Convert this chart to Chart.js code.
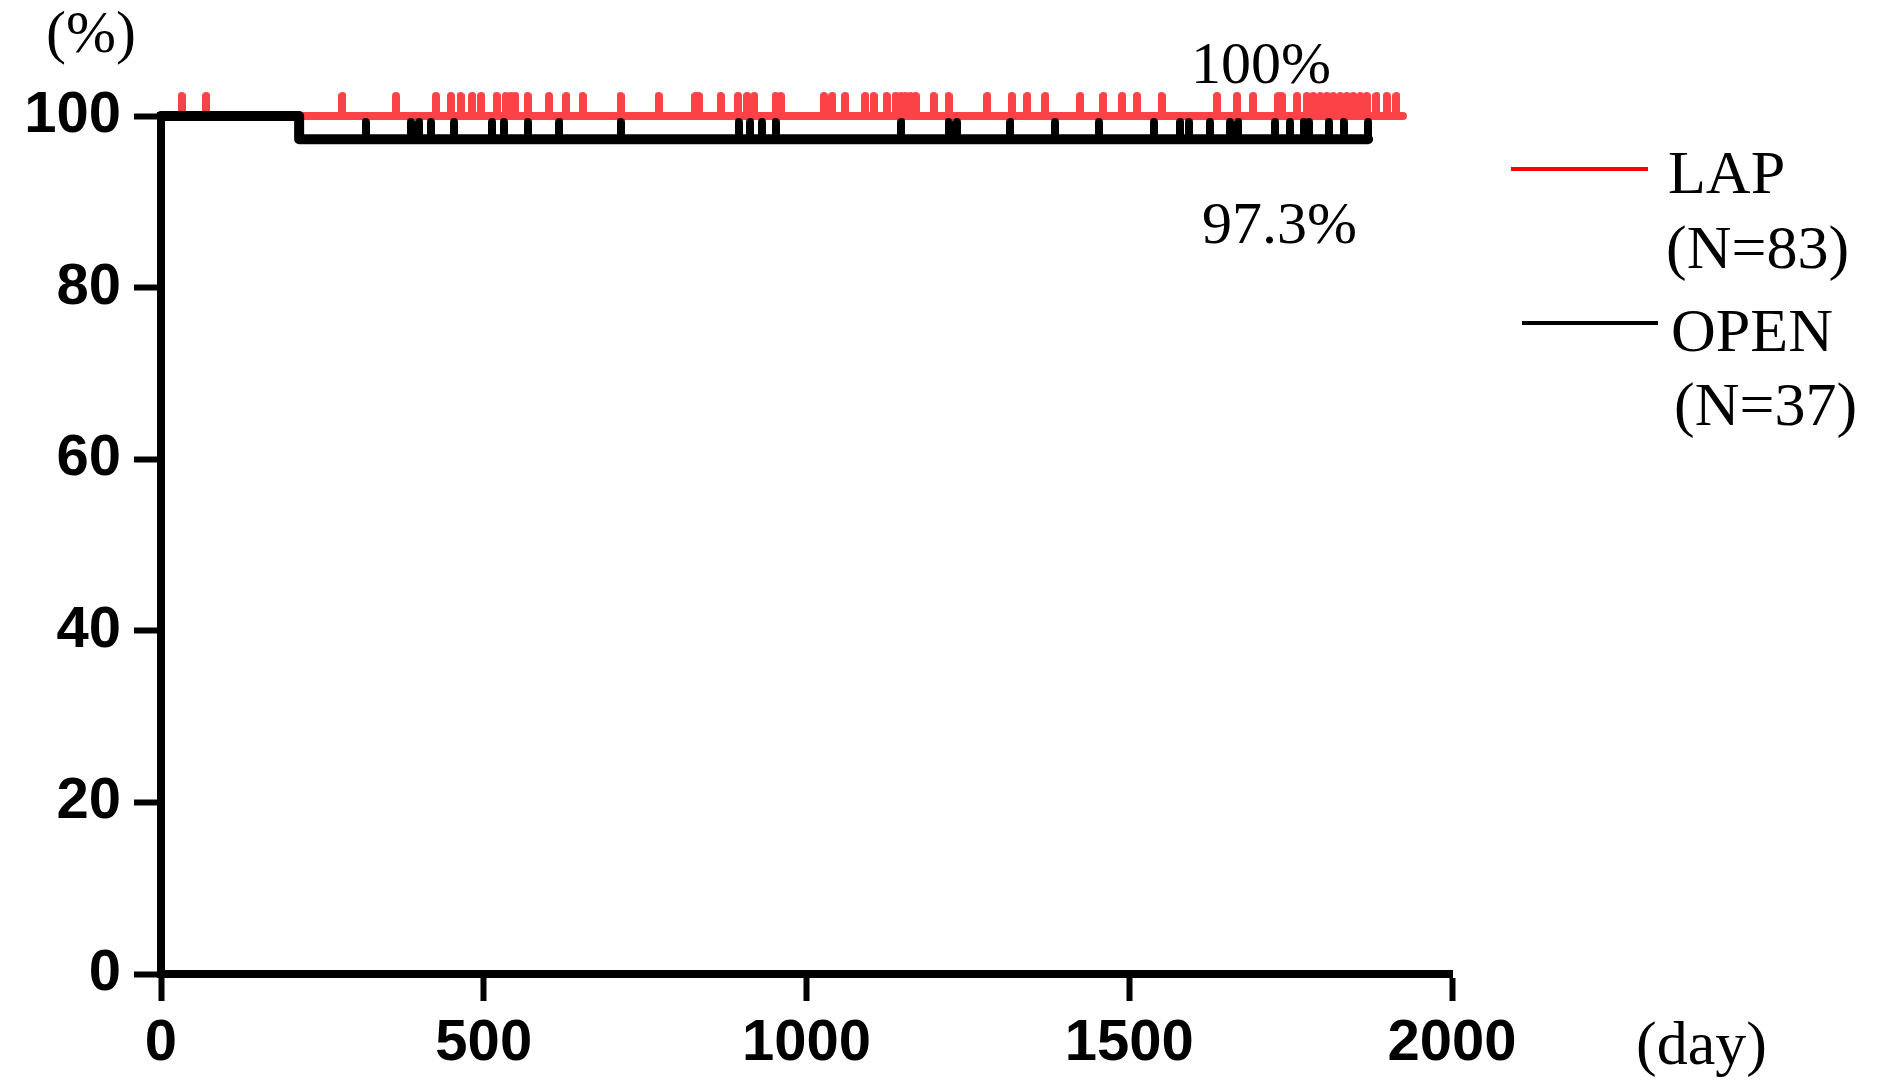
<!DOCTYPE html>
<html><head><meta charset="utf-8">
<script src="https://cdn.jsdelivr.net/npm/chart.js@4/dist/chart.umd.min.js"></script>
<style>html,body{margin:0;padding:0;background:#fff}canvas{display:block}</style>
</head><body>
<canvas id="c" width="1886" height="1084"></canvas>
<script>
// ---- data ----
const seriesNames = ['LAP', 'OPEN'];
const seriesN = [83, 37];
const lapCurveDays = [0, 1924];
const lapCurveSurv = [100, 100];
const openCurveDays = [0, 214, 1870];
const openCurveSurv = [100, 97.3, 97.3];
const lapCensorDays = [32, 70, 281, 364, 426, 449, 464, 482, 496, 520, 534, 542, 549, 568, 601, 628, 653, 712, 771, 828, 833, 867, 894, 908, 919, 952, 960,
  1027, 1040, 1060, 1091, 1104, 1124, 1138, 1146, 1153, 1161, 1169, 1197, 1220, 1280, 1318, 1342, 1370, 1424, 1460,
  1489, 1512, 1550, 1636, 1667, 1692, 1731, 1736, 1760, 1775, 1785, 1796, 1806, 1816, 1827, 1837, 1847, 1858, 1868, 1883, 1899, 1914];
const openCensorDays = [317, 387, 400, 418, 454, 513, 531, 568, 617, 712, 895, 913, 931, 952,
  1147, 1220, 1233, 1316, 1385, 1453, 1538, 1579, 1592, 1625, 1656, 1669, 1726, 1749, 1770, 1778, 1809, 1832, 1870];
const xTickValues = [0, 500, 1000, 1500, 2000];
const yTickValues = [0, 20, 40, 60, 80, 100];
const endLabels = ['100%', '97.3%'];
const xUnit = '(day)';
const yUnit = '(%)';

// ---- helpers ----
function survAt(days, surv, t) {
  let s = surv[0];
  for (let i = 0; i < days.length; i++) if (days[i] <= t) s = surv[i];
  return s;
}
function makeTick(color, w, h) {
  const cv = document.createElement('canvas');
  cv.width = w; cv.height = h * 2;
  const g = cv.getContext('2d');
  g.fillStyle = color;
  g.beginPath();
  g.moveTo(0, h); g.lineTo(0, w / 2); g.arc(w / 2, w / 2, w / 2, Math.PI, 0); g.lineTo(w, h); g.closePath();
  g.fill();
  return cv;
}
const RED = '#fb4247';
const BLACK = '#000000';
const redTick = makeTick(RED, 8, 24);
const blackTick = makeTick(BLACK, 8, 21);

const lapCurve = lapCurveDays.map((d, i) => ({x: d, y: lapCurveSurv[i]}));
const openCurve = openCurveDays.map((d, i) => ({x: d, y: openCurveSurv[i]}));
const lapCens = lapCensorDays.map(d => ({x: d, y: survAt(lapCurveDays, lapCurveSurv, d)}));
const openCens = openCensorDays.map(d => ({x: d, y: survAt(openCurveDays, openCurveSurv, d)}));

const serif = '"Liberation Serif", "Times New Roman", serif';
const textPlugin = {
  id: 'texts',
  afterDraw(chart) {
    const ctx = chart.ctx;
    ctx.save();
    ctx.fillStyle = '#000';
    ctx.textBaseline = 'alphabetic';
    ctx.font = '60px ' + serif;
    ctx.textAlign = 'left';
    ctx.fillText(yUnit, 46, 52);
    ctx.font = '62px ' + serif;
    ctx.fillText(xUnit, 1636, 1064);
    ctx.font = '60px ' + serif;
    ctx.fillText(endLabels[0], 1191, 83);
    ctx.fillText(endLabels[1], 1202, 243);
    // legend
    ctx.font = '62px ' + serif;
    ctx.lineCap = 'butt';
    ctx.lineWidth = 4;
    ctx.strokeStyle = '#ff0000';
    ctx.beginPath(); ctx.moveTo(1511, 169); ctx.lineTo(1648, 169); ctx.stroke();
    ctx.fillText(seriesNames[0], 1668, 193);
    ctx.fillText('(N=' + seriesN[0] + ')', 1666, 268);
    ctx.strokeStyle = '#000';
    ctx.beginPath(); ctx.moveTo(1522, 323); ctx.lineTo(1658, 323); ctx.stroke();
    ctx.fillText(seriesNames[1], 1671, 351);
    ctx.fillText('(N=' + seriesN[1] + ')', 1674, 425);
    ctx.restore();
  }
};

const tickFont = {family: '"Liberation Sans", Arial, sans-serif', size: 58, weight: 'bold'};

new Chart(document.getElementById('c'), {
  type: 'scatter',
  data: {
    datasets: [
      {label: 'OPEN', type: 'line', data: openCurve, stepped: 'before', borderColor: BLACK, borderWidth: 10,
        borderCapStyle: 'round', borderJoinStyle: 'round', pointRadius: 0, fill: false, clip: false, order: 1},
      {label: 'OPEN censored', data: openCens, pointStyle: blackTick, pointRadius: 5, showLine: false, clip: false, order: 1},
      {label: 'LAP', type: 'line', data: lapCurve, stepped: 'before', borderColor: RED, borderWidth: 8,
        borderCapStyle: 'round', pointRadius: 0, fill: false, clip: false, order: 2},
      {label: 'LAP censored', data: lapCens, pointStyle: redTick, pointRadius: 5, showLine: false, clip: false, order: 2}
    ]
  },
  options: {
    responsive: false,
    animation: false,
    events: [],
    layout: {padding: {left: 0, top: 116, right: 434, bottom: 0}},
    plugins: {legend: {display: false}, tooltip: {enabled: false}},
    scales: {
      x: {
        type: 'linear', min: 0, max: 2000,
        afterFit(s) { s.height = 110; },
        afterBuildTicks(s) { s.ticks = xTickValues.map(v => ({value: v})); },
        border: {display: true, width: 8, color: '#000'},
        grid: {display: true, drawOnChartArea: false, drawTicks: true, tickLength: 27, tickWidth: 6, tickColor: '#000'},
        ticks: {color: '#000', padding: 8, maxRotation: 0, font: tickFont, callback: v => String(v)}
      },
      y: {
        type: 'linear', min: 0, max: 100,
        afterFit(s) { s.width = 161; },
        afterBuildTicks(s) { s.ticks = yTickValues.map(v => ({value: v})); },
        border: {display: true, width: 8, color: '#000'},
        grid: {display: true, drawOnChartArea: false, drawTicks: true, tickLength: 27, tickWidth: 6, tickColor: '#000'},
        ticks: {color: '#000', padding: 13, font: tickFont, callback: v => String(v)}
      }
    }
  },
  plugins: [textPlugin]
});
</script>
</body></html>
